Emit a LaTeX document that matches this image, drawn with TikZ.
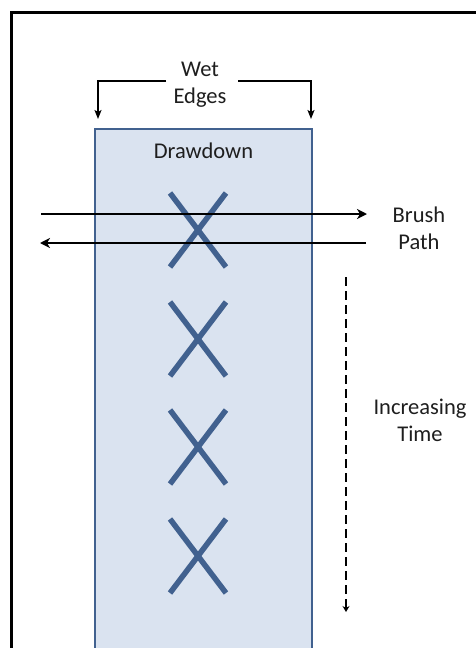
\documentclass[tikz,border=0pt]{standalone}
\usepackage{fontspec}
\setmainfont{Carlito}
\usetikzlibrary{arrows.meta}
\definecolor{boxfill}{HTML}{DAE3F0}
\definecolor{boxline}{HTML}{41618F}
\definecolor{txt}{HTML}{1E1E1E}
\tikzset{
  lbl/.style={font=\fontsize{22.5}{27}\selectfont, text=txt, align=center, inner sep=0pt},
  xmark/.style={draw=boxline, line width=5.5pt},
  brush/.style={draw=black, line width=2.4pt, -{Stealth[length=10pt,width=10pt,inset=3pt]}},
  wet/.style={draw=black, line width=1.5pt, -{Stealth[length=9pt,width=7pt,inset=2pt]}},
  timearrow/.style={draw=black, line width=2.5pt, dash pattern=on 9pt off 5pt, -{Stealth[length=6pt,width=7pt]}}
}
\begin{document}
\begin{tikzpicture}[x=1pt,y=-1pt]
\useasboundingbox (0,0) rectangle (476,648);
% frame
\draw[line width=3pt] (11,660) -- (11,12) -- (490,12);
% drawdown strip
\draw[fill=boxfill, draw=boxline, line width=2.4pt] (95,660) -- (95,129) -- (312,129) -- (312,660);
\node[lbl] (dd) at (203.5,151) {Drawdown};
% wet edges
\node[lbl] (we) at (200,84.5) {Wet\\Edges};
\coordinate (wl) at (166,81);
\coordinate (wr) at (238,81);
\coordinate (wlc) at (98,81);
\coordinate (wrc) at (311,81);
\coordinate (wlt) at (98,119);
\coordinate (wrt) at (311,119);
\draw[wet] (wl) -- (wlc) -- (wlt);
\draw[wet] (wr) -- (wrc) -- (wrt);
% X marks
\foreach \i/\cy in {1/230,2/339,3/447,4/556}{
  \coordinate (xa\i) at (170,\cy-37);
  \coordinate (xb\i) at (226,\cy+37);
  \coordinate (xc\i) at (226,\cy-37);
  \coordinate (xd\i) at (170,\cy+37);
  \draw[xmark] (xa\i) -- (xb\i);
  \draw[xmark] (xc\i) -- (xd\i);
}
% brush path
\coordinate (bl1) at (41,214);
\coordinate (br1) at (367,214);
\coordinate (bl2) at (40,243);
\coordinate (br2) at (366,243);
\draw[brush] (bl1) -- (br1);
\draw[brush] (br2) -- (bl2);
\node[lbl] (bp) at (419,228) {Brush\\Path};
% time
\coordinate (t1) at (346,277);
\coordinate (t2) at (346,612);
\draw[timearrow] (t1) -- (t2);
\node[lbl] (it) at (420,420.5) {Increasing\\Time};
\end{tikzpicture}
\end{document}
